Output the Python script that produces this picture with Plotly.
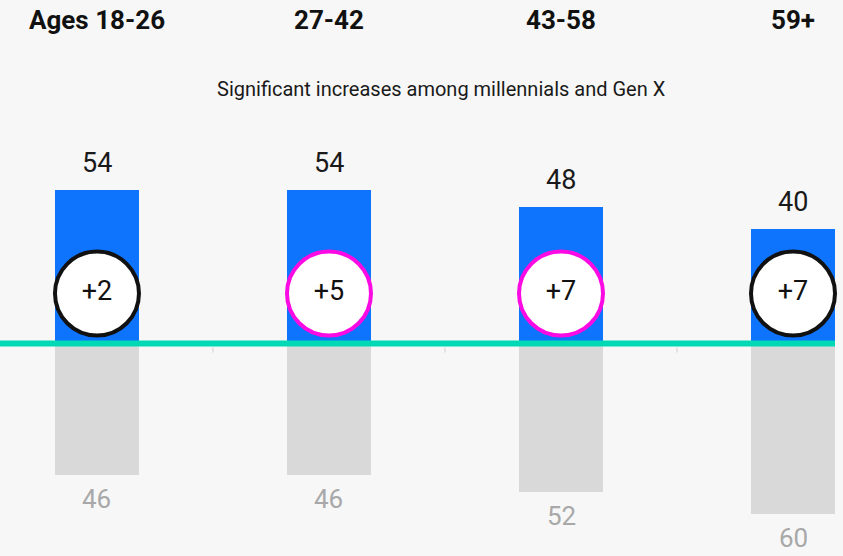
import plotly.graph_objects as go

# Survey shares by age group
age_groups = ["Ages 18-26", "27-42", "43-58", "59+"]
yes_share = [54, 54, 48, 40]
no_share = [46, 46, 52, 60]
change = [2, 5, 7, 7]
significant = [False, True, True, False]

subtitle = "Significant increases among millennials and Gen X"

BG = "#f7f7f7"
BLUE = "#0f74fd"
GREY = "#d9d9d9"
TEAL = "#00d8b6"
MAGENTA = "#fb0ae3"
FONT = "Roboto"

x = list(range(len(age_groups)))
BAR_W = 0.358
CIRCLE_Y = 17.5
H = 556

fig = go.Figure()

fig.add_trace(go.Bar(
    x=x, y=yes_share, width=BAR_W, marker=dict(color=BLUE, line=dict(width=0)),
    hoverinfo="skip", showlegend=False,
))
fig.add_trace(go.Bar(
    x=x, y=[-v for v in no_share], width=BAR_W, marker=dict(color=GREY, line=dict(width=0)),
    hoverinfo="skip", showlegend=False,
))

# Change badges
fig.add_trace(go.Scatter(
    x=x, y=[CIRCLE_Y] * len(x), mode="markers+text",
    marker=dict(size=84, color="white",
                line=dict(width=4, color=[MAGENTA if s else "#111111" for s in significant])),
    text=[f"+{c}" for c in change], textposition="middle center",
    textfont=dict(family=FONT, size=27, color="#111111"),
    hoverinfo="skip", showlegend=False, cliponaxis=False,
))

annotations = []
for xi, v in zip(x, yes_share):
    annotations.append(dict(x=xi, y=v, xref="x", yref="y", text=str(v), showarrow=False,
                            yanchor="bottom", yshift=9,
                            font=dict(family=FONT, size=27, color="#1a1a1a")))
for xi, v in zip(x, no_share):
    annotations.append(dict(x=xi, y=-v, xref="x", yref="y", text=str(v), showarrow=False,
                            yanchor="top", yshift=-8, borderpad=0,
                            font=dict(family=FONT, size=26, color="#a8a8a8")))
for xi, label in zip(x, age_groups):
    annotations.append(dict(x=xi, y=1 - 20 / H, xref="x", yref="paper", yanchor="middle",
                            text=f"<b>{label}</b>", showarrow=False,
                            font=dict(family=FONT, size=26, color="#111111")))
annotations.append(dict(x=0.529, y=1 - 89 / H, xref="paper", yref="paper", yanchor="middle",
                        text=subtitle, showarrow=False,
                        font=dict(family=FONT, size=20, color="#1a1a1a")))

shapes = [dict(type="line", xref="paper", yref="y", x0=0, x1=1, y0=0, y1=0,
               line=dict(color=TEAL, width=6), layer="above")]
for xi in x[:-1]:
    shapes.append(dict(type="line", xref="x", yref="y", x0=xi + 0.5, x1=xi + 0.5,
                       ysizemode="pixel", yanchor=0, y0=-4, y1=-9,
                       line=dict(color="#dcdcdc", width=1.5), layer="below"))

fig.update_layout(
    width=843, height=H,
    margin=dict(l=0, r=8, t=0, b=0),
    paper_bgcolor=BG, plot_bgcolor=BG,
    barmode="overlay", bargap=0,
    xaxis=dict(range=[-0.418, 3.181], visible=False, fixedrange=True),
    yaxis=dict(range=[-74.6, 120.5], visible=False, fixedrange=True),
    annotations=annotations, shapes=shapes,
)

fig.write_html("out.html", config={"displayModeBar": False})
